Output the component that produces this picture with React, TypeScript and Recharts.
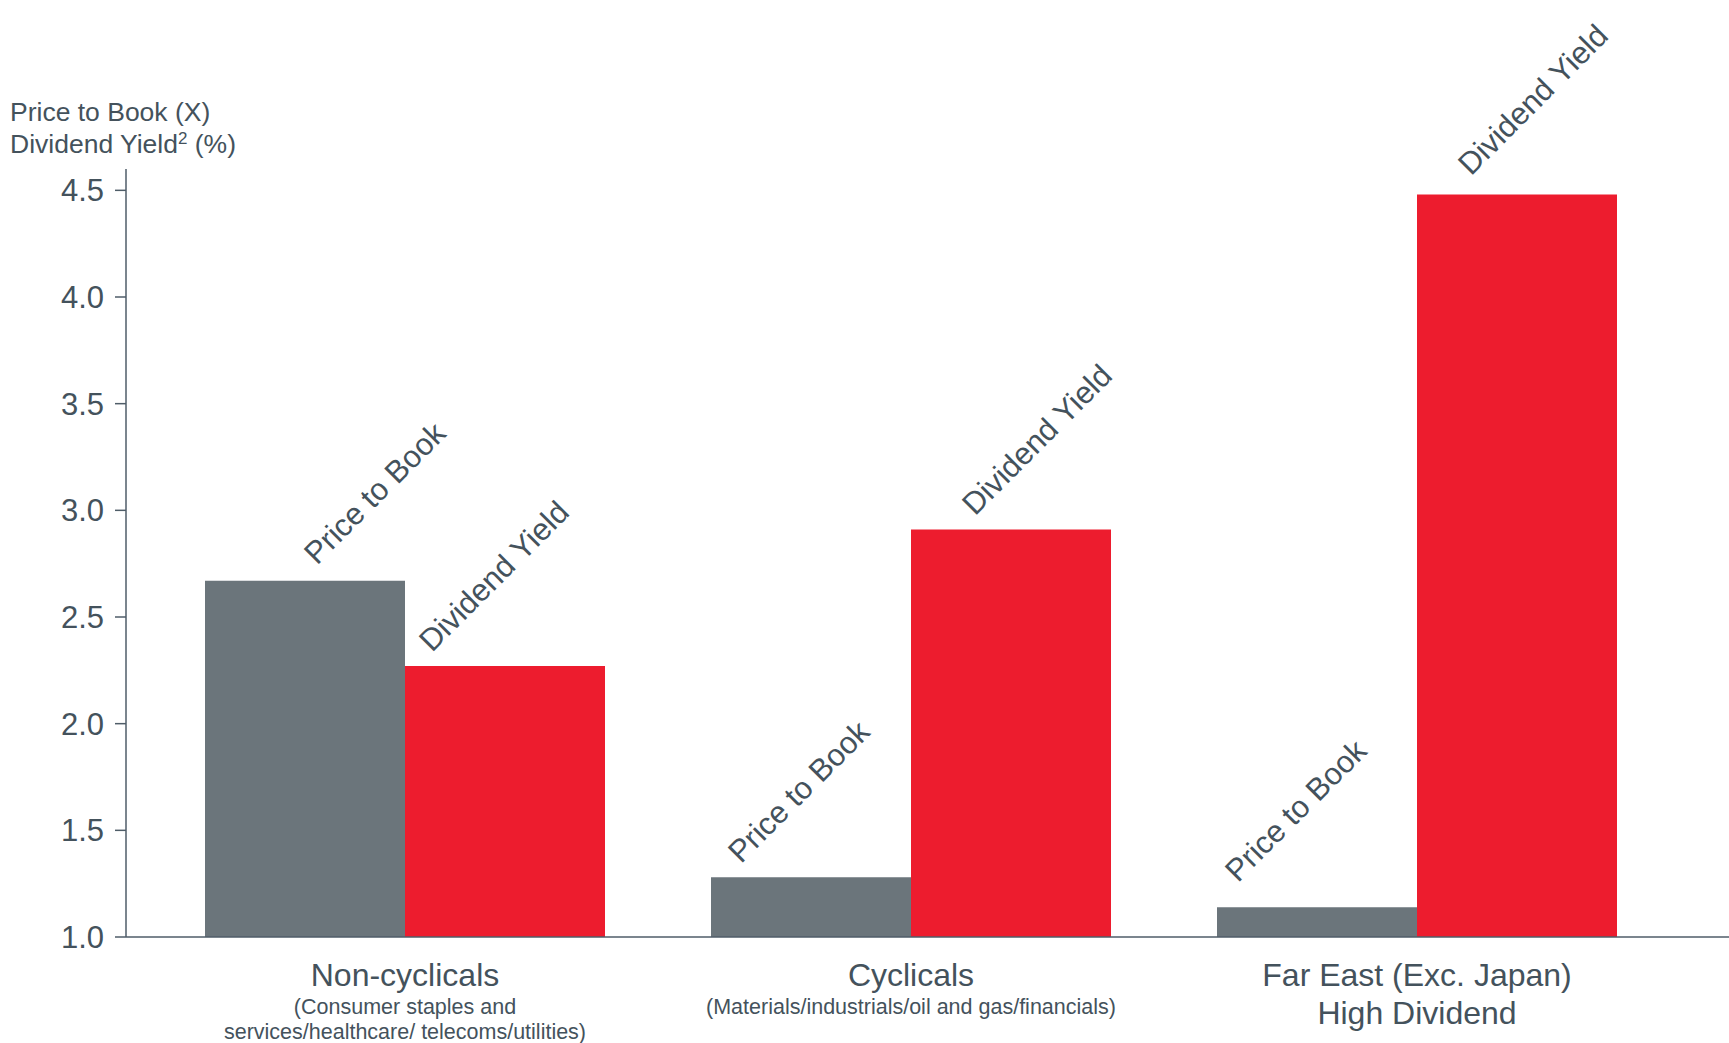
import { BarChart, Bar, XAxis, YAxis, LabelList } from "recharts";

const categories = ["Non-cyclicals", "Cyclicals", "Far East (Exc. Japan)"];
const categorySecondLines = ["", "", "High Dividend"];
const categoryNotes = [
  ["(Consumer staples and", "services/healthcare/ telecoms/utilities)"],
  ["(Materials/industrials/oil and gas/financials)"],
  [],
];
const priceToBook = [2.67, 1.28, 1.14];
const dividendYield = [2.27, 2.91, 4.48];
const yTicks = [1.0, 1.5, 2.0, 2.5, 3.0, 3.5, 4.0, 4.5];
const seriesNames = ["Price to Book", "Dividend Yield"];

const data = categories.map((c, i) => ({
  category: c,
  pb: priceToBook[i],
  dy: dividendYield[i],
}));

// hand placement of the rotated bar labels: [from bar left, above bar top]
const pbLabelShift = [
  [112, 15],
  [30, 13],
  [21, 24],
];
const dyLabelShift = [
  [27, 13],
  [64, 13],
  [54, 18],
];

const FONT = "'Liberation Sans', Arial, sans-serif";
const TEXT = "#44525c";
const AXIS = "#4f5d68";
const GREY = "#6b757b";
const RED = "#ed1c2e";

function rotatedLabel(text: string, shifts: number[][]) {
  return (props: any) => {
    const { x, y, index } = props;
    const [sx, sy] = shifts[index];
    const ox = Number(x) + sx;
    const oy = Number(y) - sy;
    return (
      <text
        x={ox}
        y={oy}
        transform={`rotate(-45 ${ox} ${oy})`}
        fontSize={31}
        fontFamily={FONT}
        fill={TEXT}
      >
        {text}
      </text>
    );
  };
}

function CategoryTick(props: any) {
  const { x, y, payload } = props;
  const i = categories.indexOf(payload.value);
  return (
    <g fontFamily={FONT} fill={TEXT} textAnchor="middle">
      <text x={x} y={y + 49} fontSize={32}>
        {payload.value}
      </text>
      {categorySecondLines[i] && (
        <text x={x} y={y + 87} fontSize={32}>
          {categorySecondLines[i]}
        </text>
      )}
      {categoryNotes[i].map((note, k) => (
        <text key={k} x={x} y={y + 77 + k * 25} fontSize={21.5}>
          {note}
        </text>
      ))}
    </g>
  );
}

export default function App() {
  return (
    <div
      style={{
        position: "fixed",
        left: 0,
        top: 0,
        width: 1729,
        height: 1043,
        background: "#fff",
      }}
    >
      <div
        style={{
          position: "absolute",
          left: 10,
          top: 97,
          fontFamily: FONT,
          fontSize: 26.5,
          lineHeight: "31.6px",
          color: TEXT,
          whiteSpace: "nowrap",
        }}
      >
        <div>Price to Book (X)</div>
        <div>
          Dividend Yield
          <span
            style={{
              fontSize: 17,
              position: "relative",
              top: -9,
              lineHeight: 0,
            }}
          >
            2
          </span>{" "}
          (%)
        </div>
      </div>
      <BarChart
        width={1729}
        height={1043}
        data={data}
        margin={{ top: 169, right: 0, bottom: 0, left: 0 }}
        barGap={0}
        barSize={200}
      >
        <XAxis
          dataKey="category"
          height={106}
          padding={{ left: 26, right: 59 }}
          axisLine={{ stroke: AXIS, strokeWidth: 1.5 }}
          tickLine={false}
          tickSize={0}
          tickMargin={0}
          interval={0}
          tick={<CategoryTick />}
        />
        <YAxis
          width={126}
          domain={[1, 4.6]}
          ticks={yTicks}
          allowDataOverflow
          tickFormatter={(v: number) => v.toFixed(1)}
          axisLine={{ stroke: AXIS, strokeWidth: 1.5 }}
          tickLine={{ stroke: AXIS, strokeWidth: 1.5 }}
          tickSize={11}
          tickMargin={11}
          tick={{ fontSize: 31, fill: TEXT, fontFamily: FONT }}
        />
        <Bar dataKey="pb" name={seriesNames[0]} fill={GREY} isAnimationActive={false}>
          <LabelList dataKey="pb" content={rotatedLabel(seriesNames[0], pbLabelShift)} />
        </Bar>
        <Bar dataKey="dy" name={seriesNames[1]} fill={RED} isAnimationActive={false}>
          <LabelList dataKey="dy" content={rotatedLabel(seriesNames[1], dyLabelShift)} />
        </Bar>
      </BarChart>
    </div>
  );
}
